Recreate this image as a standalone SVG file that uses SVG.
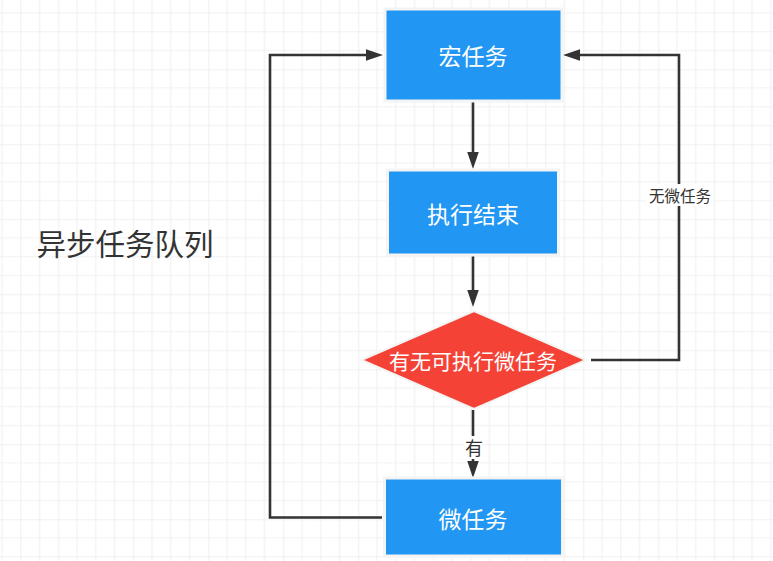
<svg xmlns="http://www.w3.org/2000/svg" width="773" height="561" viewBox="0 0 773 561">
<defs>
<pattern id="grid" patternUnits="userSpaceOnUse" x="-16.7" y="-5.7" width="75" height="75">
<path d="M18.75 0V75M37.5 0V75M56.25 0V75M0 18.75H75M0 37.5H75M0 56.25H75" stroke="#f1f1f1" stroke-width="1.2" fill="none"/>
<path d="M0 0V75M0 0H75" stroke="#e4e4e4" stroke-width="1.2" fill="none"/>
</pattern>
<marker id="arr" markerUnits="userSpaceOnUse" markerWidth="18" markerHeight="12" refX="0" refY="5.75" orient="auto" overflow="visible">
<path d="M0 0L17 5.75L0 11.5Z" fill="#333333"/>
</marker>
</defs>
<style>
.box{fill:#2196f3;stroke:#f4f4f4;stroke-width:3}
.dia{fill:#f44336;stroke:#f4f4f4;stroke-width:2}
.lt{font-family:"Noto Sans CJK SC","Noto Sans",sans-serif;fill:#ffffff;text-anchor:middle;dominant-baseline:central}
.ln{fill:none;stroke:#333333;stroke-width:2.6}
.cl{font-family:"Noto Sans CJK SC","Noto Sans",sans-serif;fill:#333333;text-anchor:middle;dominant-baseline:central}
</style>
<rect width="773" height="561" fill="#ffffff"/>
<rect width="773" height="561" fill="url(#grid)"/>
<g id="connectors">
<path class="ln" d="M473 101V152" marker-end="url(#arr)"/>
<path class="ln" d="M473 256V290" marker-end="url(#arr)"/>
<path class="ln" d="M473 410V461" marker-end="url(#arr)"/>
<path class="ln" d="M382 517.5H270V55H366" marker-end="url(#arr)"/>
<path class="ln" d="M591 360H679V55H580" marker-end="url(#arr)"/>
<rect x="464" y="436" width="18" height="23" fill="#ffffff"/>
<text class="cl" x="474" y="447" font-size="18">有</text>
<rect x="646" y="184" width="67" height="22" fill="#ffffff"/>
<text class="cl" x="680" y="195" font-size="15.5">无微任务</text>
</g>
<g id="macro">
<rect class="box" x="385" y="9" width="177" height="92"/>
<text class="lt" x="473" y="55" font-size="23">宏任务</text>
</g>
<g id="done">
<rect class="box" x="387.5" y="170" width="171" height="85"/>
<text class="lt" x="473" y="213" font-size="23">执行结束</text>
</g>
<g id="check">
<polygon class="dia" points="361.5,360 474,311 586,360 474,409"/>
<text class="lt" x="473" y="360" font-size="21">有无可执行微任务</text>
</g>
<g id="micro">
<rect class="box" x="384.5" y="478" width="178" height="78"/>
<text class="lt" x="473" y="518" font-size="23">微任务</text>
</g>
<g id="title">
<text class="cl" x="125" y="242" font-size="29.5">异步任务队列</text>
</g>
</svg>
